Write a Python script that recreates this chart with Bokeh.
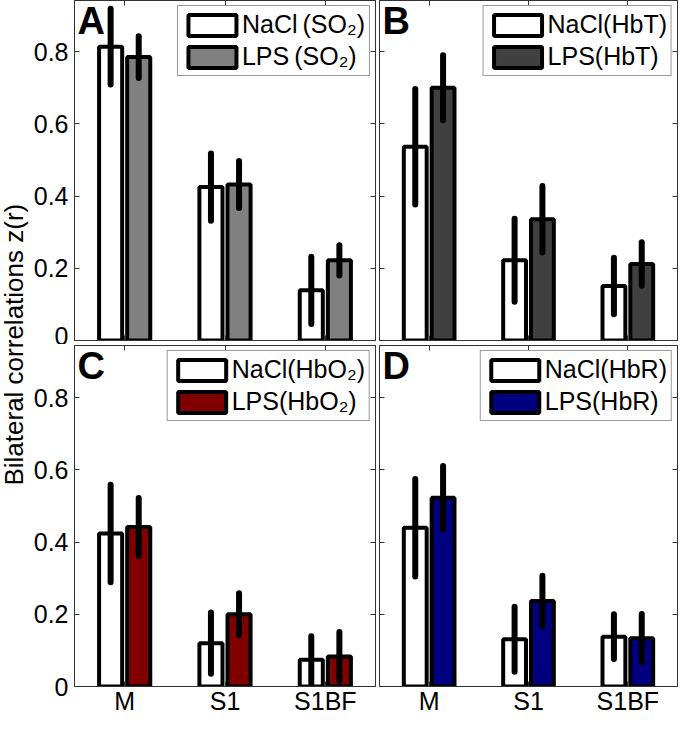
from bokeh.plotting import figure
from bokeh.models import (FactorRange, Range1d, FixedTicker, LinearAxis, CategoricalAxis,
                          Legend, LegendItem, Label, ColumnDataSource)
from bokeh.transform import dodge
from bokeh.layouts import gridplot, row
from bokeh.embed import file_html
from bokeh.resources import INLINE

# ---------------- data ----------------
categories = ["M", "S1", "S1BF"]
y_ticks = [0, 0.2, 0.4, 0.6, 0.8]
y_tick_labels = ["0", "0.2", "0.4", "0.6", "0.8"]
y_label = "Bilateral correlations z(r)"

panel_letters = ["A", "B", "C", "D"]
nacl_labels = ["NaCl\u2009(SO\u2082)", "NaCl(HbT)", "NaCl(HbO\u2082)", "NaCl(HbR)"]
lps_labels = ["LPS\u2009(SO\u2082)", "LPS(HbT)", "LPS(HbO\u2082)", "LPS(HbR)"]
lps_colors = ["#808080", "#404040", "#800000", "#000080"]

nacl_A = [0.814, 0.425, 0.139]
nacl_A_err = [0.105, 0.093, 0.093]
lps_A = [0.785, 0.432, 0.222]
lps_A_err = [0.058, 0.065, 0.042]

nacl_B = [0.537, 0.222, 0.151]
nacl_B_err = [0.160, 0.115, 0.078]
lps_B = [0.700, 0.336, 0.212]
lps_B_err = [0.090, 0.092, 0.060]

nacl_C = [0.424, 0.120, 0.074]
nacl_C_err = [0.135, 0.085, 0.065]
lps_C = [0.442, 0.200, 0.083]
lps_C_err = [0.080, 0.058, 0.068]

nacl_D = [0.440, 0.131, 0.138]
nacl_D_err = [0.135, 0.090, 0.062]
lps_D = [0.523, 0.237, 0.134]
lps_D_err = [0.088, 0.070, 0.067]

FONT = "Liberation Sans"
AX = "#333333"
PX_PER_UNIT = 361.0


def make_panel(idx, nacl, nacl_err, lps, lps_err, fw, fh, borders, show_x, show_y):
    src = ColumnDataSource(dict(
        cat=categories,
        nacl=nacl, lps=lps,
        nacl_lo=[v - e for v, e in zip(nacl, nacl_err)],
        nacl_hi=[v + e for v, e in zip(nacl, nacl_err)],
        lps_lo=[v - e for v, e in zip(lps, lps_err)],
        lps_hi=[v + e for v, e in zip(lps, lps_err)],
    ))
    left, right, top, bottom = borders
    yend = fh / PX_PER_UNIT
    p = figure(x_range=FactorRange(factors=categories, range_padding=0),
               y_range=Range1d(0, yend), frame_width=fw, frame_height=fh,
               output_backend="svg", toolbar_location=None,
               x_axis_location=None, y_axis_location=None,
               min_border_left=left, min_border_right=right,
               min_border_top=top, min_border_bottom=bottom)
    p.grid.visible = False
    p.outline_line_color = AX
    p.outline_line_width = 1

    xl = dodge("cat", -0.14, range=p.x_range)
    xr = dodge("cat", 0.14, range=p.x_range)
    r1 = p.vbar(x=xl, top="nacl", width=0.23, source=src, fill_color="white",
                line_color="black", line_width=4)
    r2 = p.vbar(x=xr, top="lps", width=0.23, source=src, fill_color=lps_colors[idx],
                line_color="black", line_width=4)
    p.segment(x0=xl, y0="nacl_lo", x1=xl, y1="nacl_hi", source=src,
              line_color="black", line_width=6, line_cap="round")
    p.segment(x0=xr, y0="lps_lo", x1=xr, y1="lps_hi", source=src,
              line_color="black", line_width=6, line_cap="round")

    # axes on all four sides, ticks inside
    ax_left = LinearAxis(ticker=FixedTicker(ticks=y_ticks),
                         major_label_overrides=dict(zip(y_ticks, y_tick_labels)))
    ax_right = LinearAxis(ticker=FixedTicker(ticks=y_ticks))
    ax_below = CategoricalAxis()
    ax_above = CategoricalAxis()
    p.add_layout(ax_left, "left")
    p.add_layout(ax_right, "right")
    p.add_layout(ax_below, "below")
    p.add_layout(ax_above, "above")
    for ax in (ax_left, ax_right, ax_below, ax_above):
        ax.major_tick_in = 5
        ax.major_tick_out = 0
        ax.minor_tick_line_color = None
        ax.major_tick_line_color = AX
        ax.axis_line_color = AX
        ax.major_label_text_font = FONT
        ax.major_label_text_font_size = "25px"
        ax.major_label_text_color = "black"
    ax_left.major_label_standoff = 6
    ax_below.major_label_standoff = 0
    hidden = [ax_right, ax_above]
    if not show_y:
        hidden.append(ax_left)
    if not show_x:
        hidden.append(ax_below)
    for ax in hidden:
        ax.major_label_text_font_size = "1px"
        ax.major_label_text_color = None
        ax.major_label_standoff = 0

    legend = Legend(items=[LegendItem(label=nacl_labels[idx], renderers=[r1]),
                           LegendItem(label=lps_labels[idx], renderers=[r2])],
                    location="top_right", margin=5, padding=4, spacing=3,
                    glyph_width=60, glyph_height=26, label_height=26,
                    label_standoff=0, label_text_font=FONT,
                    label_text_font_size="25px", label_text_baseline="middle",
                    label_text_color="black",
                    border_line_color=AX, border_line_width=1,
                    background_fill_color="white", background_fill_alpha=1)
    p.add_layout(legend)

    p.add_layout(Label(x=0.03, y=yend, y_offset=1, text=panel_letters[idx],
                       text_font=FONT, text_font_style="bold",
                       text_font_size="38px", text_baseline="top",
                       text_color="black"))
    return p


pA = make_panel(0, nacl_A, nacl_A_err, lps_A, lps_A_err, 301, 340, (42, 1, 0, 4), False, True)
pB = make_panel(1, nacl_B, nacl_B_err, lps_B, lps_B_err, 298, 340, (3, 1, 0, 4), False, False)
pC = make_panel(2, nacl_C, nacl_C_err, lps_C, lps_C_err, 301, 341, (42, 1, 1, 0), True, True)
pD = make_panel(3, nacl_D, nacl_D_err, lps_D, lps_D_err, 298, 341, (3, 1, 1, 0), True, False)

lab = figure(width=30, height=717, x_range=Range1d(0, 1), y_range=Range1d(0, 1),
             output_backend="svg", toolbar_location=None, min_border=0,
             x_axis_type=None, y_axis_type=None, outline_line_color=None)
lab.grid.visible = False
lab.add_layout(Label(x=0.45, y=0.52, text=y_label, angle=90, angle_units="deg",
                     text_align="center", text_baseline="middle",
                     text_font=FONT, text_font_size="26px", text_color="black"))

grid = gridplot([[pA, pB], [pC, pD]], toolbar_location=None)
layout = row(lab, grid)

open("out.html", "w").write(file_html(layout, INLINE))
